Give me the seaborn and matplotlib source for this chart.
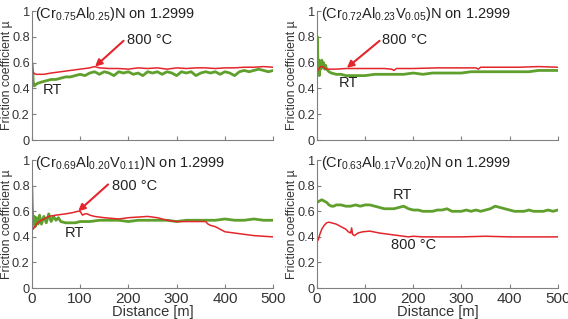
import matplotlib
matplotlib.use("Agg")
import matplotlib.pyplot as plt
import seaborn as sns

sns.set_style("ticks")
plt.rcParams['font.family'] = ['Liberation Sans', 'DejaVu Sans']
plt.rcParams['mathtext.fontset'] = 'custom'
plt.rcParams['mathtext.rm'] = 'Liberation Sans'
plt.rcParams['mathtext.default'] = 'regular'

RED = '#e3262b'
GREEN = '#5f9f2c'

titles = [r'(Cr$_{0.75}$Al$_{0.25}$)N on 1.2999',
          r'(Cr$_{0.72}$Al$_{0.23}$V$_{0.05}$)N on 1.2999',
          r'(Cr$_{0.69}$Al$_{0.20}$V$_{0.11}$)N on 1.2999',
          r'(Cr$_{0.63}$Al$_{0.17}$V$_{0.20}$)N on 1.2999']

## panel 1
d1_rt = [0, 1, 2, 3, 5, 8, 12, 20, 30, 40, 50, 60, 70, 80, 90, 100, 110, 120, 130, 140,
         150, 160, 170, 180, 190, 200, 210, 220, 230, 240, 250, 260, 270, 280, 290, 300,
         310, 320, 330, 340, 350, 360, 370, 380, 390, 400, 410, 420, 430, 440, 450, 460,
         470, 480, 490, 500]
mu1_rt = [0.60, 0.58, 0.52, 0.45, 0.42, 0.43, 0.44, 0.45, 0.46, 0.47, 0.47, 0.48, 0.49,
          0.49, 0.50, 0.51, 0.50, 0.52, 0.53, 0.51, 0.53, 0.52, 0.50, 0.53, 0.52, 0.53,
          0.51, 0.52, 0.50, 0.53, 0.52, 0.53, 0.51, 0.53, 0.52, 0.50, 0.53, 0.52, 0.53,
          0.50, 0.52, 0.53, 0.52, 0.53, 0.51, 0.53, 0.52, 0.50, 0.53, 0.54, 0.53, 0.54,
          0.55, 0.54, 0.53, 0.54]
d1_hot = [0, 1, 2, 4, 8, 15, 25, 40, 60, 80, 100, 120, 130, 140, 160, 180, 200, 220, 240,
          260, 280, 300, 320, 340, 360, 380, 400, 420, 440, 460, 480, 500]
mu1_hot = [0.58, 0.55, 0.53, 0.52, 0.51, 0.51, 0.51, 0.52, 0.53, 0.54, 0.55, 0.56, 0.57,
           0.56, 0.555, 0.555, 0.55, 0.56, 0.555, 0.56, 0.55, 0.56, 0.555, 0.56, 0.56,
           0.555, 0.56, 0.56, 0.565, 0.565, 0.57, 0.565]

## panel 2
d2_rt = [0, 1, 2, 3, 4, 5, 6, 8, 10, 12, 14, 16, 18, 20, 25, 30, 40, 50, 60, 80, 100, 120,
         140, 160, 180, 200, 220, 240, 260, 280, 300, 320, 340, 360, 380, 400, 420, 440,
         460, 480, 500]
mu2_rt = [0.55, 0.80, 0.60, 0.52, 0.62, 0.50, 0.60, 0.55, 0.62, 0.56, 0.60, 0.55, 0.58,
          0.55, 0.53, 0.52, 0.51, 0.51, 0.50, 0.50, 0.50, 0.51, 0.51, 0.51, 0.51, 0.52,
          0.51, 0.52, 0.52, 0.52, 0.52, 0.53, 0.53, 0.53, 0.53, 0.53, 0.53, 0.53, 0.54,
          0.54, 0.54]
d2_hot = [0, 2, 5, 8, 12, 16, 20, 30, 40, 60, 100, 140, 155, 160, 165, 200, 250, 300, 330,
          335, 340, 380, 420, 460, 500]
mu2_hot = [0.55, 0.54, 0.56, 0.57, 0.57, 0.56, 0.55, 0.55, 0.55, 0.555, 0.555, 0.555,
           0.55, 0.54, 0.555, 0.555, 0.56, 0.56, 0.56, 0.55, 0.565, 0.565, 0.565, 0.57,
           0.565]

## panel 3
d3_rt = [0, 1, 2, 3, 5, 7, 10, 13, 16, 20, 25, 30, 35, 40, 45, 50, 55, 60, 70, 80, 90, 100,
         110, 120, 140, 160, 180, 200, 220, 240, 260, 280, 300, 320, 340, 360, 380, 400,
         420, 440, 460, 480, 500]
mu3_rt = [0.80, 0.65, 0.55, 0.50, 0.56, 0.48, 0.55, 0.50, 0.57, 0.50, 0.56, 0.51, 0.58,
          0.52, 0.56, 0.53, 0.55, 0.52, 0.51, 0.51, 0.51, 0.52, 0.52, 0.52, 0.53, 0.53,
          0.53, 0.52, 0.53, 0.53, 0.53, 0.53, 0.52, 0.53, 0.53, 0.53, 0.53, 0.54, 0.53,
          0.53, 0.54, 0.53, 0.53]
d3_hot = [0, 3, 6, 10, 15, 25, 35, 50, 70, 85, 95, 100, 105, 110, 115, 120, 130, 150, 180,
          200, 220, 240, 260, 280, 300, 330, 360, 365, 370, 380, 390, 400, 420, 440, 460,
          480, 500]
mu3_hot = [0.50, 0.46, 0.48, 0.50, 0.52, 0.54, 0.56, 0.57, 0.58, 0.59, 0.60, 0.60, 0.57,
           0.58, 0.58, 0.57, 0.56, 0.55, 0.54, 0.55, 0.555, 0.56, 0.55, 0.53, 0.52, 0.52,
           0.52, 0.50, 0.49, 0.48, 0.46, 0.44, 0.43, 0.42, 0.41, 0.405, 0.40]

## panel 4
d4_rt = [0, 5, 10, 15, 20, 25, 30, 35, 40, 50, 60, 70, 80, 90, 100, 110, 120, 130, 140, 150,
         160, 170, 180, 190, 200, 210, 220, 230, 240, 250, 260, 270, 280, 290, 300, 310,
         320, 330, 340, 350, 360, 370, 380, 390, 400, 410, 420, 430, 440, 450, 460, 470,
         480, 490, 500]
mu4_rt = [0.67, 0.68, 0.69, 0.68, 0.67, 0.65, 0.64, 0.64, 0.65, 0.65, 0.64, 0.64, 0.65,
          0.64, 0.65, 0.65, 0.64, 0.63, 0.62, 0.62, 0.62, 0.63, 0.64, 0.62, 0.61, 0.61,
          0.60, 0.60, 0.60, 0.61, 0.61, 0.62, 0.60, 0.60, 0.60, 0.61, 0.60, 0.61, 0.60,
          0.61, 0.62, 0.64, 0.63, 0.62, 0.61, 0.60, 0.60, 0.60, 0.61, 0.60, 0.60, 0.60,
          0.61, 0.60, 0.61]
d4_hot = [0, 3, 6, 10, 15, 20, 25, 30, 40, 50, 60, 65, 70, 72, 74, 78, 85, 95, 110, 130,
          150, 170, 190, 200, 220, 260, 300, 350, 400, 450, 500]
mu4_hot = [0.36, 0.38, 0.42, 0.46, 0.49, 0.51, 0.515, 0.51, 0.50, 0.48, 0.46, 0.44, 0.43,
           0.47, 0.42, 0.41, 0.43, 0.44, 0.445, 0.43, 0.42, 0.41, 0.40, 0.405, 0.40, 0.40,
           0.40, 0.405, 0.40, 0.40, 0.40]

panels = [(d1_rt, mu1_rt, d1_hot, mu1_hot),
          (d2_rt, mu2_rt, d2_hot, mu2_hot),
          (d3_rt, mu3_rt, d3_hot, mu3_hot),
          (d4_rt, mu4_rt, d4_hot, mu4_hot)]

# label positions (text_xy, arrow tip, arrow start) for "800 °C" and RT
hot_labels = [((198, 0.775), (131, 0.57), (190, 0.77)),
              ((135, 0.775), (62, 0.56), (130, 0.77)),
              ((166, 0.80), (96, 0.60), (158, 0.81)),
              ((153, 0.335), None, None)]
rt_labels = [(22, 0.39), (45, 0.44), (69, 0.43), (158, 0.73)]

fig = plt.figure(figsize=(5.68, 3.19), dpi=100)
rects = [[0.056, 0.561, 0.425, 0.404], [0.558, 0.561, 0.424, 0.404],
         [0.056, 0.097, 0.425, 0.401], [0.558, 0.097, 0.424, 0.401]]

for i, (dr, mr, dh, mh) in enumerate(panels):
    ax = fig.add_axes(rects[i])
    sns.lineplot(x=dr, y=mr, ax=ax, color=GREEN, lw=2.0, estimator=None, sort=False)
    sns.lineplot(x=dh, y=mh, ax=ax, color=RED, lw=1.1, estimator=None, sort=False)
    ax.set_xlim(0, 500)
    ax.set_ylim(0, 1)
    ax.set_xticks([0, 100, 200, 300, 400, 500])
    ax.set_yticks([0, 0.2, 0.4, 0.6, 0.8, 1])
    ax.set_yticklabels(['0', '0.2', '0.4', '0.6', '0.8', '1'])
    ax.tick_params(direction='in', length=3, color='#808080', labelcolor='#333333')
    ax.tick_params(axis='x', labelsize=11, pad=3)
    ax.tick_params(axis='y', labelsize=9.2, pad=1.5)
    for s in ['top', 'right']:
        ax.spines[s].set_visible(False)
    for s in ['left', 'bottom']:
        ax.spines[s].set_color('#808080')
        ax.spines[s].set_linewidth(0.8)
    ax.set_ylabel('Friction coefficient µ', fontsize=8.8, color='#333333')
    ax.yaxis.set_label_coords(-0.078, 0.5)
    if i < 2:
        ax.set_xticklabels([])
    else:
        ax.set_xlabel('Distance [m]', fontsize=10.5, color='#333333', labelpad=-1)
    ax.text(0.015, 0.975, titles[i], transform=ax.transAxes, va='center', ha='left',
            fontsize=10.5, color='#222222')
    txy, tip, start = hot_labels[i]
    ax.text(txy[0], txy[1], '800 °C', fontsize=10.5, color='#222222', va='center')
    if tip is not None:
        ax.annotate('', xy=tip, xytext=start,
                    arrowprops=dict(arrowstyle='-|>', color=RED, lw=1.5,
                                    mutation_scale=10, shrinkA=0, shrinkB=0))
    ax.text(rt_labels[i][0], rt_labels[i][1], 'RT', fontsize=10.5, color='#222222',
            va='center')

fig.savefig('out.png', dpi=100)
